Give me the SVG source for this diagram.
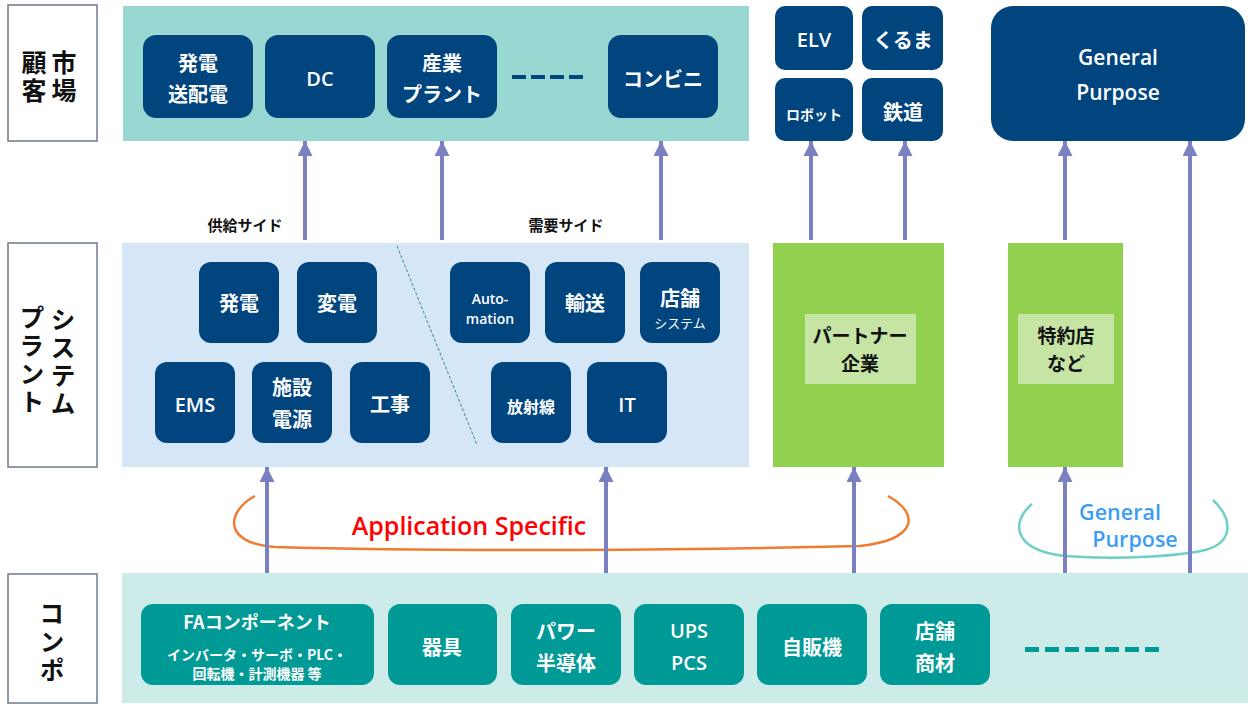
<svg xmlns="http://www.w3.org/2000/svg" width="1253" height="704" viewBox="0 0 1253 704">
<style>
.lbl{fill:#fff;stroke:#6f7a8e;stroke-width:1.5}
.lt{font-family:"Noto Sans CJK JP",sans-serif;font-size:25px;font-weight:bold;fill:#111;text-anchor:middle;writing-mode:vertical-rl;letter-spacing:3px}
.nv{fill:#01457f}
.tl{fill:#009a96}
.t{font-family:"Noto Sans CJK JP",sans-serif;font-size:20px;font-weight:bold;fill:#fff;text-anchor:middle;dominant-baseline:central}
.e{font-family:"Open Sans","Noto Sans CJK JP",sans-serif;font-weight:600}
.blk{fill:#111}
.arr{stroke:#7b80c0;stroke-width:4;fill:none;marker-end:url(#ah)}
</style>
<defs>
<marker id="ah" markerUnits="userSpaceOnUse" markerWidth="16" markerHeight="16" refX="15" refY="7.5" orient="auto" viewBox="0 0 16 16">
<path d="M0,0 L15,7.5 L0,15 z" fill="#7b80c0"/>
</marker>
</defs>

<!-- left labels -->
<g id="label-market">
<rect class="lbl" x="8" y="5" width="89" height="136"/>
<text class="lt" x="64" y="78">市場</text>
<text class="lt" x="34" y="78">顧客</text>
</g>
<g id="label-system">
<rect class="lbl" x="8" y="243" width="89" height="224"/>
<text class="lt" x="63" y="363">システム</text>
<text class="lt" x="32" y="361">プラント</text>
</g>
<g id="label-compo">
<rect class="lbl" x="8" y="574" width="89" height="129"/>
<text class="lt" x="52" y="643">コンポ</text>
</g>

<!-- bands -->
<g id="band-market"><rect x="123" y="6" width="626" height="135" fill="#99d8d2"/>
<g fill="#01457f"><rect x="512" y="75" width="14" height="4"/><rect x="531" y="75" width="14" height="4"/><rect x="550" y="75" width="14" height="4"/><rect x="569" y="75" width="14" height="4"/></g>
</g>
<g id="band-system"><rect x="122" y="243" width="627" height="224" fill="#d5e7f6"/>
<line x1="397" y1="246" x2="477" y2="445" stroke="#2e8b7a" stroke-width="1" stroke-dasharray="3,2"/>
</g>
<g id="band-compo"><rect x="122" y="573" width="1126" height="130" fill="#cdebe9"/>
<g fill="#009a96"><rect x="1025" y="647" width="14" height="5"/><rect x="1045" y="647" width="14" height="5"/><rect x="1065" y="647" width="14" height="5"/><rect x="1085" y="647" width="14" height="5"/><rect x="1105" y="647" width="14" height="5"/><rect x="1125" y="647" width="14" height="5"/><rect x="1145" y="647" width="14" height="5"/></g>
</g>

<!-- market nodes -->
<g id="n-hatsuden-sohaiden"><rect class="nv" x="143" y="35" width="110" height="83" rx="13"/><text class="t" x="198" y="62">発電</text><text class="t" x="198" y="93">送配電</text></g>
<g id="n-dc"><rect class="nv" x="265" y="35" width="110" height="83" rx="13"/><text class="t e" x="320" y="78">DC</text></g>
<g id="n-sangyo"><rect class="nv" x="387" y="35" width="110" height="83" rx="13"/><text class="t" x="442" y="62">産業</text><text class="t" x="442" y="93">プラント</text></g>
<g id="n-konbini"><rect class="nv" x="608" y="35" width="110" height="83" rx="13"/><text class="t" x="663" y="78">コンビニ</text></g>
<g id="n-elv"><rect class="nv" x="775" y="6" width="78" height="64" rx="10"/><text class="t e" x="814" y="39">ELV</text></g>
<g id="n-kuruma"><rect class="nv" x="862" y="6" width="81" height="64" rx="10"/><text class="t" x="903" y="39">くるま</text></g>
<g id="n-robot"><rect class="nv" x="775" y="78" width="78" height="63" rx="10"/><text class="t" x="814" y="114" style="font-size:14px">ロボット</text></g>
<g id="n-tetsudo"><rect class="nv" x="862" y="78" width="81" height="63" rx="10"/><text class="t" x="903" y="111">鉄道</text></g>
<g id="n-general"><rect class="nv" x="991" y="6" width="254" height="135" rx="22"/><text class="t e" x="1118" y="57" style="font-size:21px">General</text><text class="t e" x="1118" y="92" style="font-size:21px">Purpose</text></g>

<!-- side labels -->
<g id="lbl-supply"><text class="t blk" x="245" y="224" style="font-size:15px">供給サイド</text></g>
<g id="lbl-demand"><text class="t blk" x="566" y="224" style="font-size:15px">需要サイド</text></g>

<!-- system nodes -->
<g id="s-hatsuden"><rect class="nv" x="199" y="262" width="80" height="81" rx="12"/><text class="t" x="239" y="302">発電</text></g>
<g id="s-henden"><rect class="nv" x="297" y="262" width="80" height="81" rx="12"/><text class="t" x="337" y="302">変電</text></g>
<g id="s-auto"><rect class="nv" x="450" y="262" width="80" height="81" rx="12"/><text class="t e" x="490" y="298" style="font-size:14px">Auto-</text><text class="t e" x="490" y="318" style="font-size:14px">mation</text></g>
<g id="s-yuso"><rect class="nv" x="545" y="262" width="80" height="81" rx="12"/><text class="t" x="585" y="302">輸送</text></g>
<g id="s-tenpo"><rect class="nv" x="640" y="262" width="80" height="81" rx="12"/><text class="t" x="680" y="297">店舗</text><text class="t" x="680" y="322" style="font-size:13px;font-weight:normal">システム</text></g>
<g id="s-ems"><rect class="nv" x="155" y="362" width="80" height="81" rx="12"/><text class="t e" x="195" y="404">EMS</text></g>
<g id="s-shisetsu"><rect class="nv" x="252" y="362" width="80" height="81" rx="12"/><text class="t" x="292" y="386">施設</text><text class="t" x="292" y="418">電源</text></g>
<g id="s-koji"><rect class="nv" x="350" y="362" width="80" height="81" rx="12"/><text class="t" x="390" y="403">工事</text></g>
<g id="s-hoshasen"><rect class="nv" x="491" y="362" width="80" height="81" rx="12"/><text class="t" x="531" y="406" style="font-size:16px">放射線</text></g>
<g id="s-it"><rect class="nv" x="587" y="362" width="80" height="81" rx="12"/><text class="t e" x="627" y="404">IT</text></g>

<!-- green boxes -->
<g id="g-partner"><rect x="773" y="243" width="171" height="224" fill="#92d050"/><rect x="805" y="314" width="111" height="70" fill="#c6e5a5"/><text class="t blk" x="860" y="334" style="font-size:19px">パートナー</text><text class="t blk" x="860" y="362" style="font-size:19px">企業</text></g>
<g id="g-tokuyaku"><rect x="1008" y="243" width="115" height="224" fill="#92d050"/><rect x="1018" y="314" width="96" height="70" fill="#c6e5a5"/><text class="t blk" x="1066" y="334" style="font-size:19px">特約店</text><text class="t blk" x="1066" y="362" style="font-size:19px">など</text></g>

<!-- component nodes -->
<g id="c-fa"><rect class="tl" x="141" y="604" width="233" height="81" rx="12"/><text class="t" x="257" y="621" style="font-size:18px">FAコンポーネント</text><text class="t" x="257" y="654" style="font-size:14px">インバータ・サーボ・PLC・</text><text class="t" x="257" y="673" style="font-size:14px">回転機・計測機器 等</text></g>
<g id="c-kigu"><rect class="tl" x="388" y="604" width="109" height="81" rx="12"/><text class="t" x="442" y="646">器具</text></g>
<g id="c-power"><rect class="tl" x="511" y="604" width="110" height="81" rx="12"/><text class="t" x="566" y="630">パワー</text><text class="t" x="566" y="662">半導体</text></g>
<g id="c-ups"><rect class="tl" x="634" y="604" width="110" height="81" rx="12"/><text class="t e" x="689" y="630">UPS</text><text class="t e" x="689" y="662">PCS</text></g>
<g id="c-jihanki"><rect class="tl" x="757" y="604" width="110" height="81" rx="12"/><text class="t" x="812" y="646">自販機</text></g>
<g id="c-tenpo"><rect class="tl" x="880" y="604" width="110" height="81" rx="12"/><text class="t" x="935" y="630">店舗</text><text class="t" x="935" y="662">商材</text></g>

<!-- grouping curves -->
<g id="app-specific">
<path d="M255,496 C228,510 220,543 275,547 C450,552 700,550 860,546 C915,540 922,515 888,496" fill="none" stroke="#ed7d31" stroke-width="2.5"/>
<text x="469" y="525" font-family="Open Sans, sans-serif" font-size="25" font-weight="600" fill="#ff0000" text-anchor="middle" dominant-baseline="central">Application Specific</text>
</g>
<g id="general-purpose">
<path d="M1032,504 C1012,520 1010,550 1065,556 C1120,560 1180,556 1205,550 C1235,542 1232,518 1213,500" fill="none" stroke="#6fcfc6" stroke-width="2.5"/>
<text x="1120" y="511" font-family="Open Sans, sans-serif" font-size="21.5" font-weight="600" fill="#3d9df5" text-anchor="middle" dominant-baseline="central">General</text>
<text x="1135" y="538" font-family="Open Sans, sans-serif" font-size="21.5" font-weight="600" fill="#3d9df5" text-anchor="middle" dominant-baseline="central">Purpose</text>
</g>

<!-- connectors -->
<g id="connectors">
<line class="arr" x1="305" y1="240" x2="305" y2="141"/>
<line class="arr" x1="442" y1="240" x2="442" y2="141"/>
<line class="arr" x1="661" y1="240" x2="661" y2="141"/>
<line class="arr" x1="811" y1="240" x2="811" y2="141"/>
<line class="arr" x1="905" y1="240" x2="905" y2="141"/>
<line class="arr" x1="1065" y1="240" x2="1065" y2="141"/>
<line class="arr" x1="1190" y1="573" x2="1190" y2="141"/>
<line class="arr" x1="267" y1="573" x2="267" y2="467"/>
<line class="arr" x1="606" y1="573" x2="606" y2="467"/>
<line class="arr" x1="854" y1="573" x2="854" y2="467"/>
<line class="arr" x1="1065" y1="573" x2="1065" y2="467"/>
</g>
</svg>
